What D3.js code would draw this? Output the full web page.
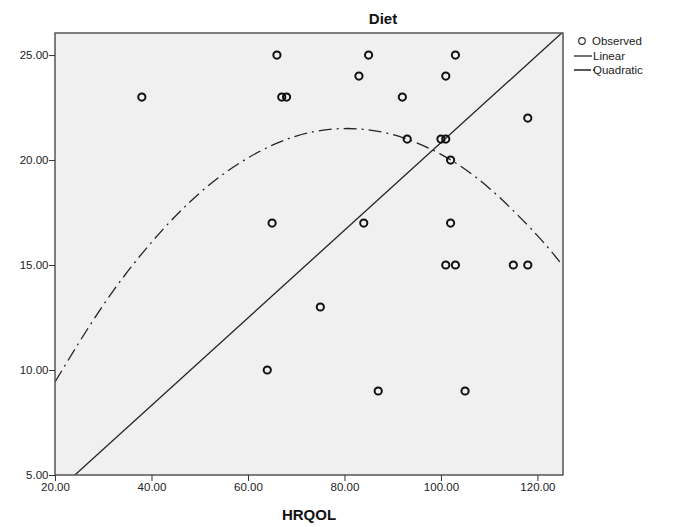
<!DOCTYPE html>
<html><head><meta charset="utf-8">
<script src="https://cdn.jsdelivr.net/npm/d3@7"></script>
<style>body{margin:0;background:#fff}svg text{font-family:"Liberation Sans",Arial,sans-serif}</style>
</head><body><div id="chart"></div>
<script>
// Observed data (HRQOL, Diet)
const hrqol = [38, 66, 67, 68, 65, 64, 75, 83, 84, 85, 87, 92, 93, 100, 101, 101, 102, 102, 101, 103, 103, 105, 115, 118, 118];
const diet  = [23, 25, 23, 23, 17, 10, 13, 24, 17, 25,  9, 23, 21,  21,  21,  24,  20,  17,  15,  15,  25,   9,  15,  15,  22];
// Fitted lines
const linearX = [20, 126];
const linearY = [4.14, 26.25];
const quadX = [20, 30, 40, 50, 60, 70, 80, 90, 100, 110, 120, 125.3];
const quadY = [9.43, 13.09, 16.08, 18.43, 20.1, 21.14, 21.5, 21.21, 20.27, 18.66, 16.4, 14.95];
const xTicks = [20, 40, 60, 80, 100, 120];
const yTicks = [5, 10, 15, 20, 25];
const legendLabels = ["Observed", "Linear", "Quadratic"];

const W = 673, H = 527;
const m = {left: 55, right: 563, top: 33, bottom: 475};
const svg = d3.select("#chart").append("svg").attr("width", W).attr("height", H);

const x = d3.scaleLinear().domain([20, 125.3]).range([m.left, m.right]);
const y = d3.scaleLinear().domain([5, 26.05]).range([m.bottom, m.top]);
const fmt = d3.format(".2f");

svg.append("rect").attr("x", m.left).attr("y", m.top)
  .attr("width", m.right - m.left).attr("height", m.bottom - m.top)
  .attr("fill", "#f0f0f0");

svg.append("clipPath").attr("id", "clip").append("rect")
  .attr("x", m.left).attr("y", m.top).attr("width", m.right - m.left).attr("height", m.bottom - m.top);

const g = svg.append("g").attr("clip-path", "url(#clip)");

// quadratic
g.append("path")
  .datum(quadX.map((d, i) => [d, quadY[i]]))
  .attr("d", d3.line().x(d => x(d[0])).y(d => y(d[1])).curve(d3.curveNatural))
  .attr("fill", "none").attr("stroke", "#222").attr("stroke-width", 1.3)
  .attr("stroke-dasharray", "13,5,2,5");

// linear
g.append("path")
  .datum(linearX.map((d, i) => [d, linearY[i]]))
  .attr("d", d3.line().x(d => x(d[0])).y(d => y(d[1])))
  .attr("fill", "none").attr("stroke", "#222").attr("stroke-width", 1.3);

// points
g.selectAll("circle.pt").data(hrqol.map((d, i) => [d, diet[i]])).enter()
  .append("circle").attr("class", "pt")
  .attr("cx", d => x(d[0])).attr("cy", d => y(d[1])).attr("r", 3.6)
  .attr("fill", "none").attr("stroke", "#111").attr("stroke-width", 2);

// frame
svg.append("rect").attr("x", m.left).attr("y", m.top)
  .attr("width", m.right - m.left).attr("height", m.bottom - m.top)
  .attr("fill", "none").attr("stroke", "#555").attr("stroke-width", 1.5);

// axes
const xAxis = d3.axisBottom(x).tickValues(xTicks).tickFormat(fmt).tickSize(6).tickSizeOuter(0);
const gx = svg.append("g").attr("transform", `translate(0,${m.bottom})`).call(xAxis);
const yAxis = d3.axisLeft(y).tickValues(yTicks).tickFormat(fmt).tickSize(6).tickSizeOuter(0);
const gy = svg.append("g").attr("transform", `translate(${m.left},0)`).call(yAxis);
[gx, gy].forEach(a => {
  a.select(".domain").remove();
  a.selectAll("line").attr("stroke", "#333");
  a.selectAll("text").attr("font-size", 11.5).attr("fill", "#222");
});
gy.selectAll("text").attr("x", -6.5);
gx.selectAll("text").attr("y", 8);

// titles
svg.append("text").attr("x", 383).attr("y", 24).attr("text-anchor", "middle")
  .attr("font-size", 15).attr("font-weight", "bold").attr("fill", "#111").text("Diet");
svg.append("text").attr("x", 309).attr("y", 520).attr("text-anchor", "middle")
  .attr("font-size", 15).attr("font-weight", "bold").attr("fill", "#111").text("HRQOL");

// legend
const lg = svg.append("g");
lg.append("circle").attr("cx", 582).attr("cy", 41).attr("r", 3.3)
  .attr("fill", "none").attr("stroke", "#333").attr("stroke-width", 1.2);
lg.append("line").attr("x1", 574).attr("x2", 592).attr("y1", 56).attr("y2", 56)
  .attr("stroke", "#222").attr("stroke-width", 1.3);
lg.append("line").attr("x1", 574).attr("x2", 595).attr("y1", 70).attr("y2", 70)
  .attr("stroke", "#222").attr("stroke-width", 1.3).attr("stroke-dasharray", "17,2,2,5");
lg.selectAll("text").data(legendLabels).enter().append("text")
  .attr("x", (d, i) => i === 0 ? 592 : 593).attr("y", (d, i) => 45 + i * 14.5)
  .attr("font-size", 11.5).attr("fill", "#222").text(d => d);
</script></body></html>
